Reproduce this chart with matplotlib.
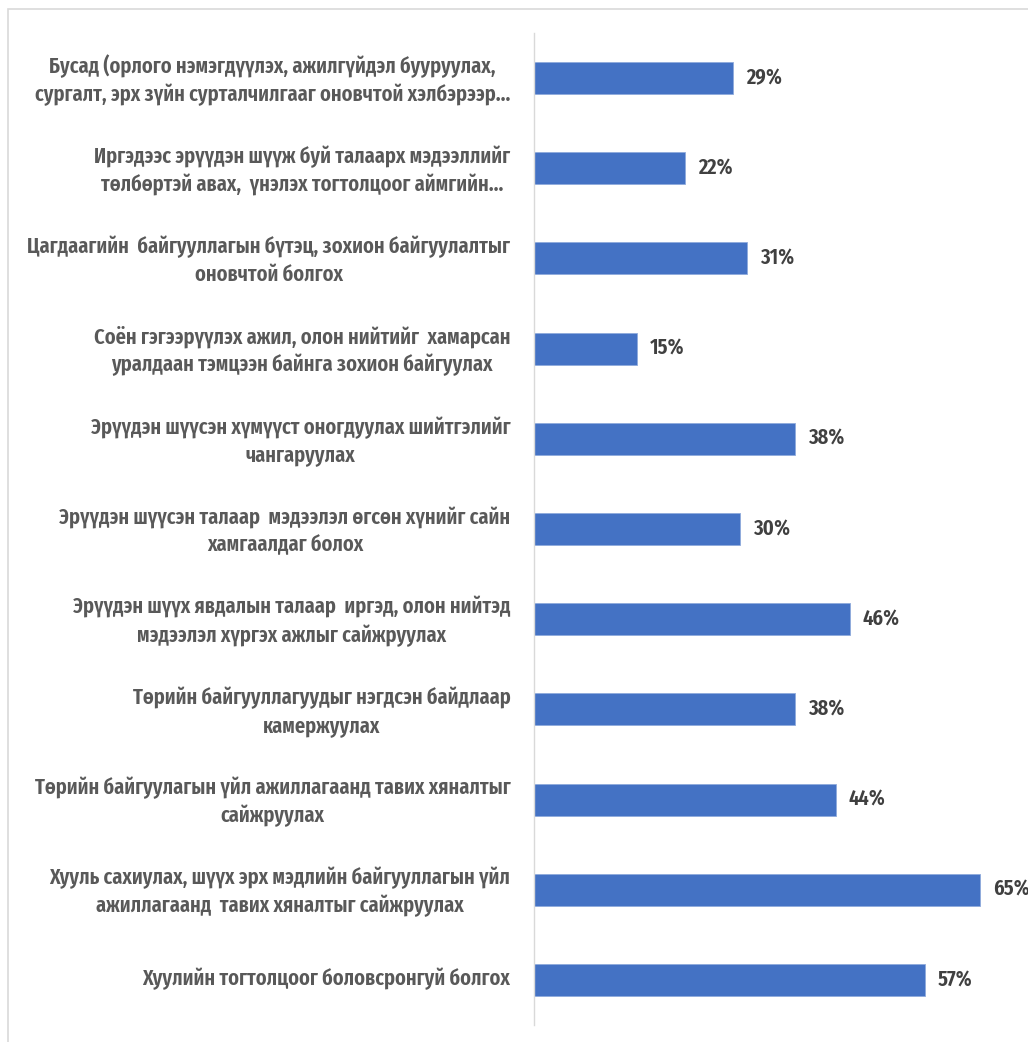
import matplotlib
matplotlib.use('Agg')
import matplotlib.pyplot as plt
import matplotlib.transforms as mtransforms
from matplotlib.patches import Rectangle

# categories listed bottom -> top
labels = [
    'Хуулийн тогтолцоог боловсронгуй болгох',
    'Хууль сахиулах, шүүх эрх мэдлийн байгууллагын үйл\nажиллагаанд  тавих хяналтыг сайжруулах',
    'Төрийн байгуулагын үйл ажиллагаанд тавих хяналтыг\nсайжруулах',
    'Төрийн байгууллагуудыг нэгдсэн байдлаар\nкамержуулах',
    'Эрүүдэн шүүх явдалын талаар  иргэд, олон нийтэд\nмэдээлэл хүргэх ажлыг сайжруулах',
    'Эрүүдэн шүүсэн талаар  мэдээлэл өгсөн хүнийг сайн\nхамгаалдаг болох',
    'Эрүүдэн шүүсэн хүмүүст оногдуулах шийтгэлийг\nчангаруулах',
    'Соён гэгээрүүлэх ажил, олон нийтийг  хамарсан\nуралдаан тэмцээн байнга зохион байгуулах',
    'Цагдаагийн  байгууллагын бүтэц, зохион байгуулалтыг\nоновчтой болгох',
    'Иргэдээс эрүүдэн шүүж буй талаарх мэдээллийг\nтөлбөртэй авах,  үнэлэх тогтолцоог аймгийн...',
    'Бусад (орлого нэмэгдүүлэх, ажилгүйдэл бууруулах,\nсургалт, эрх зүйн сурталчилгааг оновчтой хэлбэрээр...',
]
values = [0.57, 0.65, 0.44, 0.38, 0.46, 0.30, 0.38, 0.15, 0.31, 0.22, 0.29]

font = ['Fira Sans Extra Condensed', 'Fira Sans Condensed', 'DejaVu Sans']
plt.rcParams['font.family'] = font
plt.rcParams['font.stretch'] = 'condensed'

fig = plt.figure(figsize=(10.28, 10.42), dpi=100)
ax = fig.add_axes([534 / 1028, 17 / 1042, 494 / 1028, 992 / 1042])

# outer chart border (only top/left visible)
fig.patches.append(Rectangle((8 / 1028, -0.1), 1.2, 1 - 9 / 1042 + 0.1,
                             transform=fig.transFigure, fill=False,
                             edgecolor='#d9d9d9', linewidth=1.2))

y = range(len(values))
ax.barh(y, values, height=0.355, color='#4472C4', edgecolor='#8faadc', linewidth=0.6)

for i, v in enumerate(values):
    ax.text(v + 0.019, i, f'{round(v * 100)}%', va='center', ha='left',
            fontsize=16, fontweight='semibold', color='#404040', clip_on=False)

ax.set_ylim(-0.5, len(values) - 0.5)
ax.set_xlim(0, 0.72)
ax.set_yticks(list(y))
ax.set_yticklabels(labels, fontsize=16, fontweight='semibold', color='#595959',
                   multialignment='center', linespacing=1.34)
ax.tick_params(axis='y', length=0, pad=17)
# nudge labels up a little
shift = mtransforms.ScaledTranslation(0, 3 / 100, fig.dpi_scale_trans)
for t in ax.get_yticklabels():
    t.set_transform(t.get_transform() + shift)
ax.set_xticks([])
for s in ['top', 'right', 'bottom']:
    ax.spines[s].set_visible(False)
ax.spines['left'].set_color('#d9d9d9')
ax.spines['left'].set_linewidth(1.0)

fig.savefig('out.png', dpi=100)
